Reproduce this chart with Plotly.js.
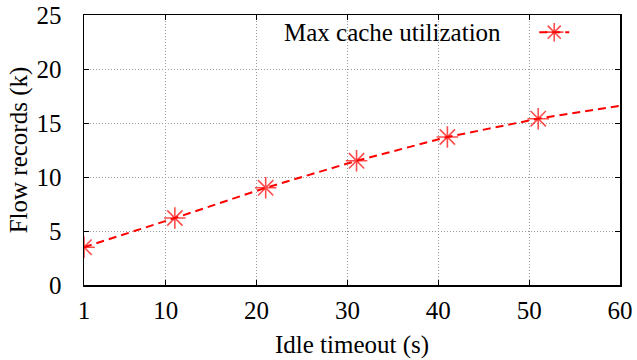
<!DOCTYPE html>
<html>
<head>
<meta charset="utf-8">
<script src="https://cdn.plot.ly/plotly-3.0.1.min.js"></script>
<style>html,body{margin:0;padding:0;background:#fff;}#chart{width:637px;height:360px;}</style>
</head>
<body>
<div id="chart"></div>
<script>
const idleTimeout = [1, 11, 21, 31, 41, 51, 60];
const flowRecords = [3.5, 6.2, 9.0, 11.5, 13.7, 15.4, 16.6];
const markerSizes = [18, 18, 18, 18, 18, 18, 0];
const xTicks = [1, 10, 20, 30, 40, 50, 60];
const yTicks = [0, 5, 10, 15, 20, 25];
const seriesName = 'Max cache utilization';

const font = {family: 'Liberation Serif, serif', size: 25, color: '#000'};

const trace = {
  x: idleTimeout, y: flowRecords, mode: 'lines+markers', name: '',
  line: {color: '#ff0000', width: 2, dash: '8px,5px'},
  marker: {symbol: 'asterisk-open', size: markerSizes, color: '#ff0000', line: {color: '#ff0000', width: 1.6}},
  cliponaxis: true
};

const axisCommon = {
  showline: true, linecolor: '#000', linewidth: 1.5, mirror: 'ticks',
  ticks: 'inside', ticklen: 5, tickcolor: '#000', tickwidth: 1,
  showgrid: true, gridcolor: '#999', griddash: '1px,2px', gridwidth: 1,
  zeroline: false, tickfont: font, automargin: false
};

const layout = {
  width: 637, height: 360,
  margin: {l: 84, r: 17, t: 15, b: 75, autoexpand: false},
  paper_bgcolor: '#fff', plot_bgcolor: '#fff',
  font: font,
  xaxis: Object.assign({}, axisCommon, {
    range: [1, 60], tickvals: xTicks, ticktext: xTicks.map(String),
    ticklabelstandoff: 2,
    title: {text: 'Idle timeout (s)', font: font, standoff: 13}
  }),
  yaxis: Object.assign({}, axisCommon, {
    range: [0, 25], tickvals: yTicks, ticktext: yTicks.map(String),
    ticklabelstandoff: 16,
    title: {text: 'Flow records (k)', font: font, standoff: 2}
  }),
  showlegend: true,
  legend: {x: 0.84, xanchor: 'left', y: 0.935, yanchor: 'middle', bgcolor: 'rgba(0,0,0,0)', font: {family: font.family, size: 14}},
  annotations: [{
    text: seriesName, xref: 'paper', yref: 'paper', x: 0.782, y: 0.935,
    xanchor: 'right', yanchor: 'middle', showarrow: false, font: font
  }]
};

Plotly.newPlot('chart', [trace], layout, {displayModeBar: false, staticPlot: true});
</script>
</body>
</html>
